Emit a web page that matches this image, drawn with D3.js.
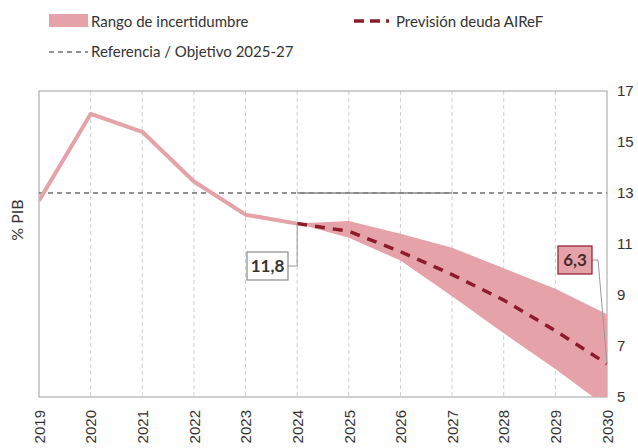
<!DOCTYPE html>
<html>
<head>
<meta charset="utf-8">
<script src="https://cdn.jsdelivr.net/npm/d3@7"></script>
<style>
  body { margin: 0; background: #fff; }
  svg { font-family: "Lato", "Open Sans", sans-serif; }
</style>
</head>
<body>
<svg width="638" height="448"></svg>
<script>
// years on the x axis
var years = [2019, 2020, 2021, 2022, 2023, 2024, 2025, 2026, 2027, 2028, 2029, 2030];
// observed debt (2019-2024)
var histYears = [2019, 2020, 2021, 2022, 2023, 2024];
var histValues = [12.7, 16.1, 15.4, 13.45, 12.15, 11.8];
// AIReF forecast and uncertainty band (2024-2030)
var fcYears = [2024, 2025, 2026, 2027, 2028, 2029, 2030];
var fcValues = [11.8, 11.5, 10.7, 9.8, 8.8, 7.6, 6.3];
var bandUpper = [11.8, 11.9, 11.4, 10.85, 10.05, 9.25, 8.25];
var bandLower = [11.8, 11.25, 10.35, 8.95, 7.5, 6.1, 4.6];
// reference / target
var refValue = 13;
var refTargetYears = [2024, 2027];
var yTicks = [5, 7, 9, 11, 13, 15, 17];

var pink = "#e5a2a9",
    darkRed = "#8c1c2c",
    svg = d3.select("svg");

var x = d3.scaleLinear().domain([2019, 2030]).range([39, 607]);
var y = d3.scaleLinear().domain([5, 17]).range([397, 91]);

svg.append("defs").append("clipPath").attr("id", "plot")
  .append("rect").attr("x", 39).attr("y", 91).attr("width", 568).attr("height", 306);

// vertical dashed grid
svg.append("g")
  .selectAll("line")
  .data(years.slice(1, -1))
  .enter().append("line")
    .attr("x1", function(d){return x(d);})
    .attr("x2", function(d){return x(d);})
    .attr("y1", 91).attr("y2", 397)
    .attr("stroke", "#cfcfcf")
    .attr("stroke-dasharray", "4,3");

// frame
svg.append("rect")
  .attr("x", 39).attr("y", 91).attr("width", 568).attr("height", 306)
  .attr("fill", "none").attr("stroke", "#a0a0a0").attr("stroke-width", 1);

// reference line
svg.append("line")
  .attr("x1", x(2019)).attr("x2", x(2030))
  .attr("y1", y(refValue)).attr("y2", y(refValue))
  .attr("stroke", "#6e6e6e").attr("stroke-width", 1.3)
  .attr("stroke-dasharray", "5,4");
svg.append("line")
  .attr("x1", x(refTargetYears[0])).attr("x2", x(refTargetYears[1]))
  .attr("y1", y(refValue)).attr("y2", y(refValue))
  .attr("stroke", "#888").attr("stroke-width", 1.5);

var plot = svg.append("g").attr("clip-path", "url(#plot)");

// uncertainty band
var band = fcYears.map(function(d, i){return {year: d, lo: bandLower[i], hi: bandUpper[i]};});
plot.append("path")
  .datum(band)
  .attr("fill", pink)
  .attr("d", d3.area()
    .x(function(d){return x(d.year);})
    .y0(function(d){return y(d.lo);})
    .y1(function(d){return y(d.hi);}));

// historical line
plot.append("path")
  .datum(histYears.map(function(d, i){return [d, histValues[i]];}))
  .attr("fill", "none")
  .attr("stroke", pink)
  .attr("stroke-width", 4)
  .attr("stroke-linejoin", "round")
  .attr("d", d3.line().x(function(d){return x(d[0]);}).y(function(d){return y(d[1]);}));

// forecast dashed line
plot.append("path")
  .datum(fcYears.map(function(d, i){return [d, fcValues[i]];}))
  .attr("fill", "none")
  .attr("stroke", darkRed)
  .attr("stroke-width", 3.5)
  .attr("stroke-dasharray", "10,8")
  .attr("d", d3.line().x(function(d){return x(d[0]);}).y(function(d){return y(d[1]);}));

// axes
var yAxis = svg.append("g")
  .attr("transform", "translate(607,0)")
  .call(d3.axisRight(y).tickValues(yTicks).tickSize(0).tickPadding(10));
yAxis.select(".domain").remove();
yAxis.selectAll("text").attr("font-size", 15).attr("fill", "#333");

var xAxis = svg.append("g")
  .attr("transform", "translate(0,397)")
  .call(d3.axisBottom(x).tickValues(years).tickFormat(d3.format("d")).tickSize(0));
xAxis.select(".domain").remove();
xAxis.selectAll("text")
  .attr("font-size", 15).attr("fill", "#333")
  .attr("transform", "rotate(-90)")
  .attr("text-anchor", "end")
  .attr("dy", "0.35em")
  .attr("x", -13).attr("y", 0);

// y title
svg.append("text")
  .attr("transform", "translate(23,220) rotate(-90)")
  .attr("text-anchor", "middle")
  .attr("font-size", 16).attr("fill", "#333")
  .text("% PIB");

// value labels
function valueLabel(year, val, bx, by, bw, bh, fill, stroke, textColor, elbowX) {
  var px = x(year), py = y(val), my = by + bh / 2;
  svg.append("polyline")
    .attr("points", [[bx + bw, my], [elbowX, my], [px, py]].join(" "))
    .attr("fill", "none").attr("stroke", "#999").attr("stroke-width", 1);
  svg.append("rect")
    .attr("x", bx).attr("y", by).attr("width", bw).attr("height", bh)
    .attr("fill", fill).attr("stroke", stroke).attr("stroke-width", 1.2);
  svg.append("text")
    .attr("x", bx + bw / 2).attr("y", my + 6)
    .attr("text-anchor", "middle")
    .attr("font-size", 17).attr("font-weight", "bold")
    .attr("fill", textColor)
    .text(d3.format(".1f")(val).replace(".", ","));
}
valueLabel(2024, histValues[5], 247, 252, 41, 28, "#fff", "#8a8a8a", "#333", x(2024));
valueLabel(2030, fcValues[6], 558, 246, 34, 28, pink, darkRed, "#4a2a2e", 598);

// legend
var lg = svg.append("g").attr("font-size", 15).attr("fill", "#333");
lg.append("rect").attr("x", 49).attr("y", 14).attr("width", 39).attr("height", 13).attr("fill", pink);
lg.append("text").attr("x", 91).attr("y", 27).text("Rango de incertidumbre");
lg.append("line").attr("x1", 49).attr("x2", 88).attr("y1", 52).attr("y2", 52)
  .attr("stroke", "#6e6e6e").attr("stroke-width", 1.3).attr("stroke-dasharray", "5,4");
lg.append("text").attr("x", 91).attr("y", 57).text("Referencia / Objetivo 2025-27");
lg.append("line").attr("x1", 354).attr("x2", 389).attr("y1", 21).attr("y2", 21)
  .attr("stroke", darkRed).attr("stroke-width", 3.5).attr("stroke-dasharray", "10,6");
lg.append("text").attr("x", 396).attr("y", 27).text("Previsión deuda AIReF");
</script>
</body>
</html>
